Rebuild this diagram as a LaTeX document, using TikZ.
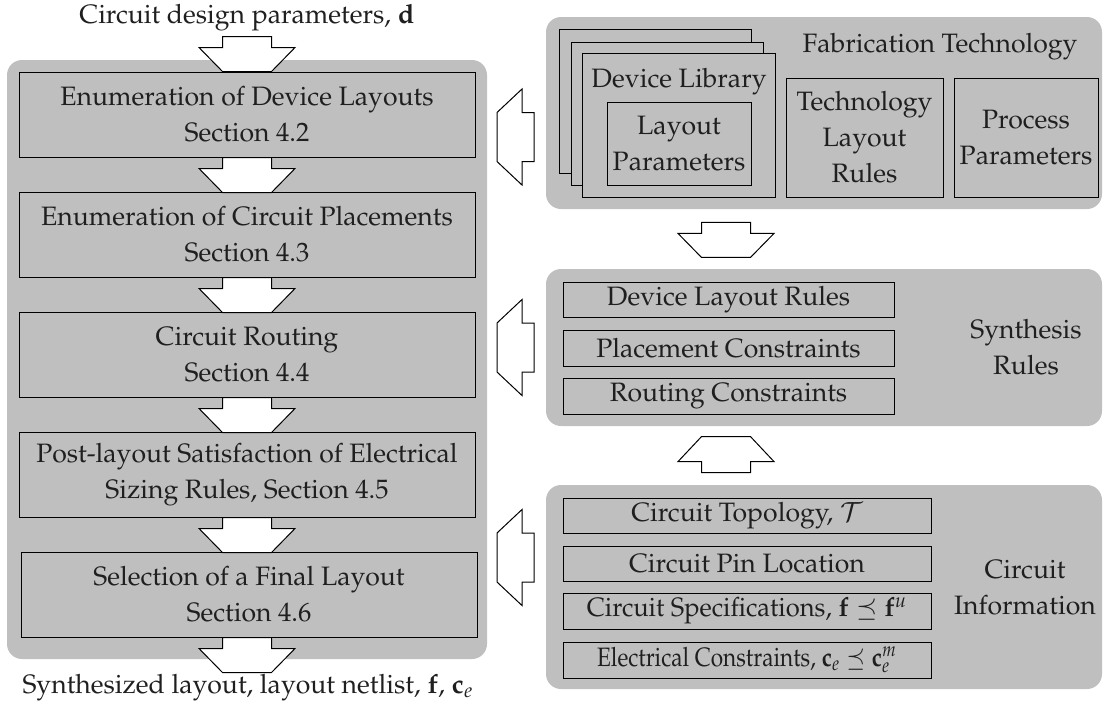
\documentclass[tikz,border=0pt]{standalone}
\usepackage[T1]{fontenc}
\usepackage{mathpazo}
\usetikzlibrary{calc,fit}
\definecolor{panel}{gray}{0.75}
\definecolor{ink}{gray}{0.12}
\begin{document}
\begin{tikzpicture}[x=0.5pt,y=-0.5pt,
  every node/.append style={font=\fontsize{13.3}{18}\selectfont},
  panelbox/.style={fill=panel, draw=none, rounded corners=7.5pt, inner sep=0pt},
  stepbox/.style={draw=black, line width=0.5pt, fill=panel, inner sep=0pt},
  lbl/.style={align=center, text=ink, inner sep=0pt},
  barrow/.style={draw=black, fill=white, line width=0.5pt, line join=miter},
  pics/arrdown/.style={code={\draw[barrow] (-24.5,0) -- (24.5,0) -- (24.5,11) -- (48,11) -- (24.5,35) -- (-24.5,35) -- (-48,11) -- (-24.5,11) -- cycle;}},
  pics/arrup/.style={code={\draw[barrow] (-24.5,0) -- (24.5,0) -- (24.5,-11) -- (48,-11) -- (24.5,-36) -- (-24.5,-36) -- (-48,-11) -- (-24.5,-11) -- cycle;}},
  pics/arrleft/.style={code={\draw[barrow] (0,-24.5) -- (0,24.5) -- (-12,24.5) -- (-12,48) -- (-37,24.5) -- (-37,-24.5) -- (-12,-48) -- (-12,-24.5) -- cycle;}}
]
\useasboundingbox (0,0) rectangle (1103,709);

% ---------- containers ----------
\node[panelbox, fit={(7,60) (487,659)}] (left) {};
\node[panelbox, fit={(546,17) (1102,209)}] (fab) {};
\node[panelbox, fit={(546,269) (1102,426)}] (syn) {};
\node[panelbox, fit={(546,485) (1102,689)}] (info) {};

% ---------- left column ----------
\node[stepbox, fit={(19,72) (475,157)}] (L1) {};
\node[stepbox, fit={(19,192) (475,277)}] (L2) {};
\node[stepbox, fit={(19,312) (475,397)}] (L3) {};
\node[stepbox, fit={(19,432) (475,517)}] (L4) {};
\node[stepbox, fit={(21,552) (477,637)}] (L5) {};
\node[lbl] (L1t) at (L1.center) {Enumeration of Device Layouts\\Section 4.2};
\node[lbl] (L2t) at (L2.center) {Enumeration of Circuit Placements\\Section 4.3};
\node[lbl] (L3t) at (L3.center) {Circuit Routing\\Section 4.4};
\node[lbl] (L4t) at (L4.center) {Post-layout Satisfaction of Electrical\\Sizing Rules, Section 4.5};
\node[lbl] (L5t) at (L5.center) {Selection of a Final Layout\\Section 4.6};

\node[lbl] (din) at (247,18) {Circuit design parameters, $\mathbf{d}$};
\node[lbl] (dout) at (248,688) {Synthesized layout, layout netlist, $\mathbf{f}$, $\mathbf{c}_e$};

\pic at ($(L1.north)+(0,-35)$) {arrdown};
\pic at (L1.south) {arrdown};
\pic at (L2.south) {arrdown};
\pic at (L3.south) {arrdown};
\pic at (L4.south) {arrdown};
\pic at ($(L5.south)+(-2,0)$) {arrdown};

% ---------- fabrication technology ----------
\node[stepbox, fit={(559,29) (751,173)}] (pg3) {};
\node[stepbox, fit={(571,42) (763,185)}] (pg2) {};
\node[stepbox, fit={(582,53) (775,197)}] (pg1) {};
\node[lbl] (devlib) at (679,82) {Device Library};
\node[stepbox, fit={(607,102) (751,185)}] (lpar) {};
\node[lbl] (lpart) at (lpar.center) {Layout\\Parameters};
\node[stepbox, fit={(786,78) (943,197)}] (tlr) {};
\node[lbl] (tlrt) at (tlr.center) {Technology\\Layout\\Rules};
\node[stepbox, fit={(954,78) (1098,197)}] (ppar) {};
\node[lbl] (ppart) at (ppar.center) {Process\\Parameters};
\node[lbl] (fabt) at (940,47) {Fabrication Technology};

% ---------- synthesis rules ----------
\node[stepbox, fit={(563,282) (894,317)}] (S1) {};
\node[stepbox, fit={(563,330) (894,366)}] (S2) {};
\node[stepbox, fit={(563,378) (894,414)}] (S3) {};
\node[lbl] (S1t) at (S1.center) {Device Layout Rules};
\node[lbl] (S2t) at (S2.center) {Placement Constraints};
\node[lbl] (S3t) at (S3.center) {Routing Constraints};
\node[lbl] (synt) at (1026,347) {Synthesis\\Rules};

% ---------- circuit information ----------
\node[stepbox, fit={(563,498) (931,533)}] (C1) {};
\node[stepbox, fit={(563,546) (931,581)}] (C2) {};
\node[stepbox, fit={(563,593) (931,629)}] (C3) {};
\node[stepbox, fit={(563,642) (931,678)}] (C4) {};
\node[lbl] (C1t) at (C1.center) {Circuit Topology, $\mathcal{T}$};
\node[lbl] (C2t) at (C2.center) {Circuit Pin Location};
\node[lbl] (C3t) at (C3.center) {\scalebox{0.96}[1]{Circuit Specifications, $\mathbf{f}\preceq\mathbf{f}^{u}$}};
\node[lbl] (C4t) at (C4.center) {\scalebox{0.85}[1]{Electrical Constraints, $\mathbf{c}_e\preceq\mathbf{c}_e^{m}$}};
\node[lbl] (cinf) at (1025,588) {Circuit\\Information};

% ---------- block arrows between panels ----------
\pic at ($(fab.south)+(-98,13)$) {arrdown};
\pic at ($(info.north)+(-98,-12)$) {arrup};
\pic at (534,137) {arrleft};
\pic at (534,347.5) {arrleft};
\pic at (534,557.5) {arrleft};
\end{tikzpicture}
\end{document}
